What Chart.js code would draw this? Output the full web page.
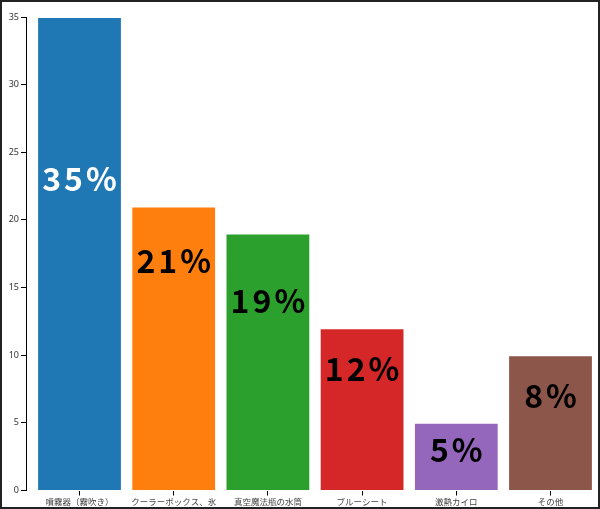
<!DOCTYPE html>
<html>
<head>
<meta charset="utf-8">
<script src="https://cdn.jsdelivr.net/npm/chart.js@4"></script>
<style>
  html, body { margin: 0; padding: 0; background: #fff; }
  #wrap { width: 600px; height: 509px; position: relative; }
</style>
</head>
<body>
<div id="wrap"><canvas id="bar-chart" width="600" height="509"></canvas></div>
<script>
// data
var categories = ['噴霧器（霧吹き）', 'クーラーボックス、氷', '真空魔法瓶の水筒', 'ブルーシート', '激熱カイロ', 'その他'];
var values = [35, 21, 19, 12, 5, 10];
var pctLabels = ['35%', '21%', '19%', '12%', '5%', '8%'];
var labelAt = [23, 17, 14, 9, 3, 7];
var yTicks = [0, 5, 10, 15, 20, 25, 30, 35];

var barColors = ['#1f77b4', '#ff7f0e', '#2ca02c', '#d62728', '#9467bd', '#8c564b'];
var labelColors = ['#fff', '#000', '#000', '#000', '#000', '#000'];

// big percentage text inside the bars
var barLabels = {
    id: 'barLabels',
    afterDatasetsDraw: function(chart){
        var ctx = chart.ctx;
        var xs = chart.scales.x, ys = chart.scales.y;
        ctx.save();
        ctx.font = 'bold 32px "Noto Sans CJK JP"';
        ctx.letterSpacing = '3px';
        ctx.textAlign = 'center';
        ctx.textBaseline = 'middle';
        pctLabels.forEach(function(t, i){
            ctx.fillStyle = labelColors[i];
            ctx.fillText(t, xs.getPixelForValue(i) + 1.5, ys.getPixelForValue(labelAt[i]));
        });
        ctx.restore();
    }
};

// frame round the whole picture
var frame = {
    id: 'frame',
    afterDraw: function(chart){
        var ctx = chart.ctx;
        ctx.save();
        ctx.strokeStyle = '#222';
        ctx.lineWidth = 2;
        ctx.strokeRect(1, 1, chart.width - 2, chart.height - 2);
        ctx.restore();
    }
};

var points = values.map(function(v, i){ return {x: i, y: v}; });

var chart = new Chart(document.getElementById('bar-chart'), {
    type: 'bar',
    data: {
        datasets: [{
            data: points,
            backgroundColor: barColors,
            borderColor: 'rgba(255,255,255,0.35)',
            borderWidth: 1,
            barPercentage: 0.9,
            categoryPercentage: 1
        }]
    },
    options: {
        responsive: false,
        animation: false,
        layout: { padding: { top: 17, right: 2.4, left: 0, bottom: 0 } },
        plugins: { legend: { display: false }, tooltip: { enabled: false } },
        scales: {
            x: {
                type: 'linear',
                offset: false,
                min: -0.568,
                max: 5.5,
                afterFit: function(s){ s.height = 18.5; },
                afterBuildTicks: function(s){ s.ticks = categories.map(function(c, i){ return {value: i}; }); },
                grid: { drawOnChartArea: false, drawTicks: true, tickLength: 5, color: '#000', offset: false },
                border: { display: false },
                ticks: {
                    autoSkip: false,
                    maxRotation: 0,
                    padding: 1,
                    color: '#444',
                    font: { family: '"Noto Sans CJK JP"', size: 8.5 },
                    callback: function(v){ return categories[v] !== undefined ? categories[v] : ''; }
                }
            },
            y: {
                min: 0,
                max: 35,
                afterFit: function(s){ s.width = 26; },
                afterBuildTicks: function(s){ s.ticks = yTicks.map(function(v){ return {value: v}; }); },
                grid: { drawOnChartArea: false, drawTicks: true, tickLength: 5, color: '#000' },
                border: { display: true, color: '#000', width: 1 },
                ticks: {
                    padding: 2,
                    color: '#333',
                    font: { family: '"Noto Sans", sans-serif', size: 9 }
                }
            }
        }
    },
    plugins: [barLabels, frame]
});
</script>
</body>
</html>
